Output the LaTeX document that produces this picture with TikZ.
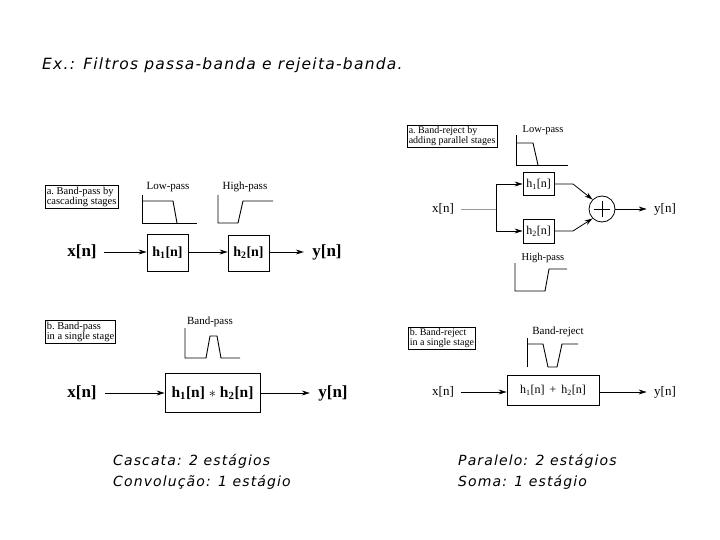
\documentclass[tikz,border=0pt]{standalone}
\usepackage{fontspec}
\setmainfont{Liberation Serif}
\newfontfamily\hand{DejaVu Sans}[LetterSpace=8]
\usetikzlibrary{arrows.meta}
\begin{document}
\begin{tikzpicture}[x=1pt,y=-1pt,
  blk/.style={draw, line width=0.8pt, inner sep=0pt},
  lbl/.style={draw, line width=0.6pt, align=left, font=\fontsize{10.5}{10}\selectfont, inner sep=1.5pt, anchor=north west},
  ptitle/.style={font=\fontsize{11}{11}\selectfont},
  bsig/.style={font=\bfseries\fontsize{17}{17}\selectfont},
  rsig/.style={font=\fontsize{13}{13}\selectfont},
  arr/.style={-{Stealth[length=8pt,width=5pt]}, line width=0.8pt},
  resp/.style={line width=0.9pt},
  note/.style={font=\hand\slshape\fontsize{14}{16}\selectfont, anchor=west, inner sep=0pt},
]
\useasboundingbox (0,0) rectangle (720,540);

% title
\node[note, font=\hand\slshape\fontsize{15.5}{16}\selectfont] (title) at (42,65) {Ex.: Filtros passa-banda e rejeita-banda.};

% ---------- left a ----------
\node[lbl] (la) at (45,185) {a.\ Band-pass by\\cascading stages};
\node[ptitle] (lpa) at (168,187) {Low-pass};
\draw[resp] (142,195) -- (142,223) -- (197,223);
\draw[resp] (142,201) -- (173,201) -- (177,223);
\node[ptitle] (hpa) at (245,187) {High-pass};
\draw[resp] (218,195) -- (218,223) -- (238,223) -- (243,201) -- (273,201);
\node[bsig] (xa) at (82,252) {x[n]};
\node[blk, minimum width=41pt, minimum height=37pt, font=\bfseries\fontsize{14}{14}\selectfont] (h1a) at (167.5,253) {h\textsubscript{1}[n]};
\node[blk, minimum width=41pt, minimum height=36pt, font=\bfseries\fontsize{14}{14}\selectfont] (h2a) at (248.5,253) {h\textsubscript{2}[n]};
\node[bsig] (ya) at (327,252) {y[n]};
\draw[arr] ([xshift=4pt]xa.east) -- (h1a.west |- xa.east);
\draw[arr] (h1a.east |- xa.east) -- (h2a.west |- xa.east);
\draw[arr] (h2a.east |- xa.east) -- ([xshift=-5pt]ya.west);

% ---------- left b ----------
\node[lbl] (lb) at (45,320) {b.\ Band-pass\\in a single stage};
\node[ptitle] (bpb) at (210,322) {Band-pass};
\draw[resp] (185,328) -- (185,358) -- (206,358) -- (210,336) -- (217,336) -- (221,358) -- (240,358);
\node[bsig] (xb) at (82,393) {x[n]};
\node[blk, minimum width=95pt, minimum height=39pt, font=\bfseries\fontsize{15.5}{15.5}\selectfont] (hb) at (212.5,393) {h\textsubscript{1}[n] $\ast$ h\textsubscript{2}[n]};
\node[bsig] (yb) at (333,393) {y[n]};
\draw[arr] ([xshift=5pt]xb.east) -- (hb.west |- xb.east);
\draw[arr] (hb.east |- xb.east) -- ([xshift=-5pt]yb.west);

% ---------- right a ----------
\node[lbl, font=\fontsize{10}{9.5}\selectfont] (ra) at (407,125) {a.\ Band-reject by\\adding parallel stages};
\node[ptitle, font=\fontsize{10.5}{10.5}\selectfont] (lpr) at (543,130) {Low-pass};
\draw[resp] (516,135) -- (516,165) -- (568,165);
\draw[resp] (516,143) -- (533,143) -- (538,165);
\node[blk, minimum width=31pt, minimum height=23pt, font=\fontsize{12}{12}\selectfont] (h1r) at (538.5,184) {h\textsubscript{1}[n]};
\node[blk, minimum width=31pt, minimum height=24pt, font=\fontsize{12}{12}\selectfont] (h2r) at (538.5,231) {h\textsubscript{2}[n]};
\node[draw, circle, line width=0.8pt, minimum size=26pt, inner sep=0pt] (sum) at (602,209) {};
\draw[line width=0.8pt] (sum.center) ++(-8,0) -- ++(16,0) (sum.center) ++(0,-8) -- ++(0,16);
\node[rsig] (xr) at (443,209) {x[n]};
\node[rsig] (yr) at (665,209) {y[n]};
\coordinate (br) at (496,209);
\draw[line width=0.8pt, black!40] ([xshift=4pt]xr.east) -- (br);
\draw[arr] (br) |- (h1r.west);
\draw[arr] (br) |- (h2r.west);
\coordinate (k1) at (573,184);
\coordinate (k2) at (573,231);
\draw[arr] (h1r.east) -- (k1) -- (sum.north west);
\draw[arr] (h2r.east) -- (k2) -- (sum.south west);
\draw[arr] (sum.east) -- ([xshift=-4pt]yr.west);
\node[ptitle, font=\fontsize{10.5}{10.5}\selectfont] (hpr) at (543,258) {High-pass};
\draw[resp] (515,263) -- (515,291) -- (545,291) -- (549,269) -- (567,269);

% ---------- right b ----------
\node[lbl, font=\fontsize{10}{9.5}\selectfont] (rb) at (408,327) {b.\ Band-reject\\in a single stage};
\node[ptitle] (brr) at (558,332) {Band-reject};
\draw[resp] (527,338) -- (527,367);
\draw[resp] (527,344) -- (543,344) -- (548,367) -- (557,367) -- (562,344) -- (578,344);
\node[rsig] (xrb) at (443,392) {x[n]};
\node[blk, minimum width=92pt, minimum height=30pt, font=\fontsize{12}{12}\selectfont] (hrb) at (553,390) {h\textsubscript{1}[n] \,+\, h\textsubscript{2}[n]};
\node[rsig] (yrb) at (665,392) {y[n]};
\draw[arr] ([xshift=4pt]xrb.east) -- (hrb.west |- xrb.east);
\draw[arr] (hrb.east |- xrb.east) -- ([xshift=-4pt]yrb.west);

% ---------- notes ----------
\node[note] (n1) at (113,461) {Cascata: 2 estágios};
\node[note] (n2) at (113,482) {Convolução: 1 estágio};
\node[note] (n3) at (458,461) {Paralelo: 2 estágios};
\node[note] (n4) at (458,482) {Soma: 1 estágio};
\end{tikzpicture}
\end{document}
